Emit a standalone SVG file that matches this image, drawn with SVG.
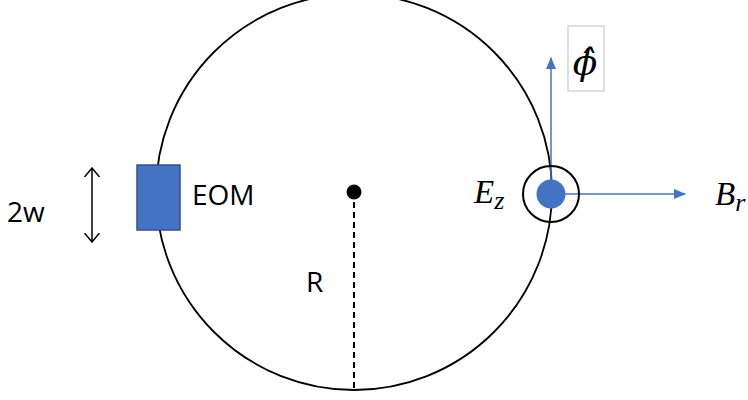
<svg xmlns="http://www.w3.org/2000/svg" width="748" height="400" viewBox="0 0 748 400">
<style>
.lbl{font-family:"Open Sans","Liberation Sans",sans-serif;font-size:28px;fill:#000}
.math{font-family:"Liberation Serif","DejaVu Serif",serif;font-style:italic;fill:#000}
.blue{stroke:#4472C4;stroke-width:1.5;fill:none}
</style>
<defs>
<marker id="tri" viewBox="0 0 12 10" refX="11" refY="5" markerWidth="12" markerHeight="10" markerUnits="userSpaceOnUse" orient="auto">
<path d="M0,0 L12,5 L0,10 Z" fill="#4472C4"/>
</marker>
<marker id="vee" viewBox="0 0 10 16" refX="9" refY="8" markerWidth="10" markerHeight="16" markerUnits="userSpaceOnUse" orient="auto">
<path d="M0,0.5 L9,8 L0,15.5" fill="none" stroke="#000" stroke-width="1.5"/>
</marker>
</defs>
<rect width="748" height="400" fill="#fff"/>
<g id="ring">
<circle cx="354" cy="192" r="198" fill="none" stroke="#000" stroke-width="1.8"/>
</g>
<g id="connectors">
<line x1="354" y1="192" x2="354" y2="390" stroke="#000" stroke-width="2" stroke-dasharray="6,4"/>
<line class="blue" x1="551" y1="194" x2="551" y2="58" marker-end="url(#tri)"/>
<line class="blue" x1="551" y1="194" x2="685" y2="194" marker-end="url(#tri)"/>
<line x1="92" y1="205" x2="92" y2="168" stroke="#000" stroke-width="1.5" marker-end="url(#vee)"/>
<line x1="92" y1="205" x2="92" y2="242" stroke="#000" stroke-width="1.5" marker-end="url(#vee)"/>
</g>
<g id="center">
<circle cx="354" cy="192" r="7.5" fill="#000"/>
</g>
<g id="eom">
<rect x="137" y="165" width="43" height="65" fill="#4472C4" stroke="#2F528F" stroke-width="1.5"/>
<text class="lbl" x="192" y="205">EOM</text>
</g>
<g id="width">
<text class="lbl" x="7" y="222">2w</text>
</g>
<g id="radius">
<text class="lbl" x="306" y="292">R</text>
</g>
<g id="source">
<circle cx="551" cy="194" r="28" fill="none" stroke="#000" stroke-width="2"/>
<circle cx="551" cy="194" r="14.5" fill="#4472C4"/>
<text class="math" x="474" y="203" font-size="33">E<tspan font-size="26" dy="6">z</tspan></text>
</g>
<g id="br">
<text class="math" x="715" y="205" font-size="33">B<tspan font-size="26" dy="6">r</tspan></text>
</g>
<g id="phi">
<rect x="568" y="26" width="36" height="65" fill="#fff" stroke="#BFBFBF" stroke-width="1"/>
<text x="585" y="75" text-anchor="middle" font-family="DejaVu Serif, serif" font-style="italic" font-size="36">ϕ̂</text>
</g>
</svg>
